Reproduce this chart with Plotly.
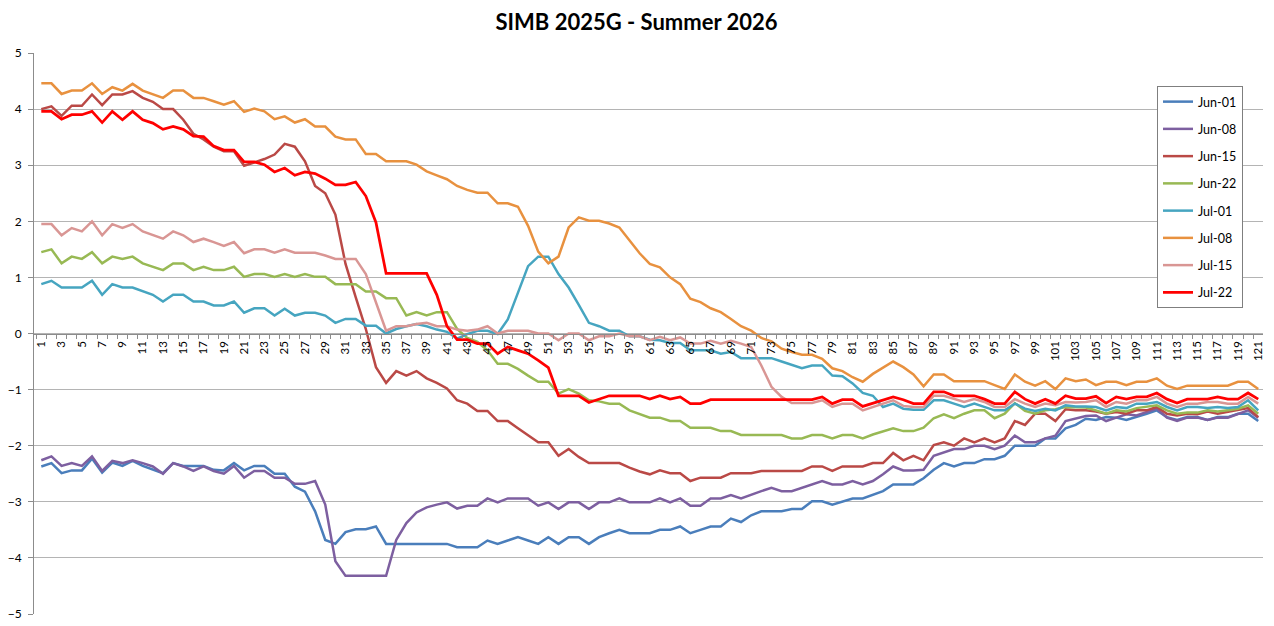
import plotly.graph_objects as go

# day index along the season (category axis 1..121)
days = list(range(1, 122))
tick_days = list(range(1, 122, 2))
tick_labels = [str(d) for d in tick_days]

jun_01 = [-2.37, -2.31, -2.49, -2.44, -2.44, -2.23, -2.48, -2.30, -2.36, -2.27, -2.36, -2.43, -2.49, -2.31, -2.36, -2.36, -2.36, -2.43, -2.44, -2.31, -2.44,
          -2.36, -2.36, -2.50, -2.50, -2.73, -2.82, -3.17, -3.68, -3.75, -3.54, -3.49, -3.49, -3.44, -3.75, -3.75, -3.75, -3.75, -3.75, -3.75, -3.75, -3.81,
          -3.81, -3.81, -3.69, -3.75, -3.69, -3.63, -3.69, -3.75, -3.63, -3.75, -3.63, -3.63, -3.75, -3.63, -3.56, -3.50, -3.56, -3.56, -3.56, -3.50,
          -3.50, -3.44, -3.56, -3.50, -3.44, -3.44, -3.30, -3.36, -3.24, -3.17, -3.17, -3.17, -3.13, -3.13, -2.99, -2.99, -3.05, -2.99, -2.94, -2.94, -2.88, -2.81, -2.69, -2.69,
          -2.69, -2.58, -2.43, -2.31, -2.37, -2.31, -2.31, -2.24, -2.24, -2.18, -2.00, -2.00, -2.00, -1.87, -1.87, -1.69, -1.63, -1.52,
          -1.54, -1.49, -1.50, -1.54, -1.49, -1.43, -1.37, -1.49, -1.54, -1.49, -1.49, -1.54, -1.49, -1.49, -1.43, -1.43, -1.56]

jun_08 = [-2.26, -2.19, -2.36, -2.31, -2.36, -2.19, -2.45, -2.27, -2.31, -2.26, -2.31, -2.37, -2.50, -2.31, -2.37, -2.45, -2.37, -2.45, -2.50, -2.36, -2.57,
          -2.45, -2.45, -2.57, -2.57, -2.68, -2.68, -2.63, -3.05, -4.06, -4.32, -4.32, -4.32, -4.32, -4.32, -3.68, -3.38, -3.19, -3.10, -3.05, -3.01, -3.12,
          -3.07, -3.07, -2.94, -3.01, -2.94, -2.94, -2.94, -3.07, -3.01, -3.13, -3.01, -3.01, -3.13, -3.01, -3.01, -2.94, -3.01, -3.01, -3.01, -2.94,
          -3.01, -2.94, -3.07, -3.07, -2.94, -2.94, -2.88, -2.94, -2.87, -2.81, -2.75, -2.81, -2.81, -2.75, -2.69, -2.63, -2.69, -2.69, -2.63, -2.69, -2.63, -2.51, -2.37, -2.44, -2.44,
          -2.43, -2.18, -2.12, -2.06, -2.06, -2.00, -2.00, -2.06, -2.00, -1.82, -1.94, -1.94, -1.87, -1.82, -1.56, -1.51, -1.47,
          -1.46, -1.56, -1.50, -1.44, -1.46, -1.40, -1.34, -1.50, -1.56, -1.50, -1.50, -1.54, -1.50, -1.50, -1.43, -1.37, -1.50]

jun_15 = [4.00, 4.05, 3.88, 4.06, 4.06, 4.26, 4.07, 4.26, 4.26, 4.32, 4.20, 4.13, 4.00, 4.00, 3.81, 3.56, 3.46, 3.33, 3.25, 3.25, 2.99,
          3.05, 3.11, 3.19, 3.38, 3.33, 3.07, 2.63, 2.50, 2.12, 1.24, 0.65, 0.08, -0.60, -0.88, -0.67, -0.75, -0.67, -0.80, -0.88, -0.98, -1.19,
          -1.25, -1.38, -1.38, -1.56, -1.56, -1.69, -1.82, -1.94, -1.94, -2.18, -2.06, -2.20, -2.31, -2.31, -2.31, -2.31, -2.39, -2.46, -2.51, -2.44,
          -2.49, -2.49, -2.63, -2.57, -2.57, -2.57, -2.49, -2.49, -2.49, -2.45, -2.45, -2.45, -2.45, -2.45, -2.37, -2.37, -2.45, -2.37, -2.37, -2.37, -2.31, -2.31, -2.13, -2.26,
          -2.18, -2.26, -1.99, -1.94, -2.00, -1.87, -1.94, -1.87, -1.94, -1.87, -1.56, -1.63, -1.43, -1.43, -1.56, -1.35, -1.37, -1.37,
          -1.39, -1.43, -1.40, -1.43, -1.37, -1.37, -1.31, -1.43, -1.46, -1.43, -1.44, -1.39, -1.43, -1.40, -1.37, -1.33, -1.49]

jun_22 = [1.45, 1.50, 1.25, 1.37, 1.33, 1.45, 1.25, 1.37, 1.33, 1.37, 1.25, 1.19, 1.13, 1.25, 1.25, 1.13, 1.19, 1.13, 1.13, 1.19, 1.01,
          1.06, 1.06, 1.01, 1.06, 1.01, 1.06, 1.01, 1.01, 0.88, 0.88, 0.88, 0.75, 0.75, 0.63, 0.63, 0.32, 0.38, 0.32, 0.38, 0.38, 0.08,
          -0.08, -0.15, -0.30, -0.54, -0.54, -0.63, -0.75, -0.86, -0.86, -1.07, -0.99, -1.07, -1.19, -1.21, -1.25, -1.25, -1.37, -1.44, -1.50, -1.50,
          -1.56, -1.56, -1.68, -1.68, -1.68, -1.74, -1.74, -1.81, -1.81, -1.81, -1.81, -1.81, -1.87, -1.87, -1.81, -1.81, -1.87, -1.81, -1.81, -1.87, -1.80, -1.74, -1.69, -1.74,
          -1.74, -1.68, -1.51, -1.44, -1.51, -1.43, -1.37, -1.37, -1.51, -1.43, -1.24, -1.38, -1.43, -1.37, -1.35, -1.31, -1.31, -1.32,
          -1.37, -1.43, -1.37, -1.39, -1.33, -1.31, -1.28, -1.37, -1.43, -1.41, -1.41, -1.37, -1.39, -1.37, -1.34, -1.28, -1.43]

jul_01 = [0.88, 0.94, 0.82, 0.82, 0.82, 0.94, 0.69, 0.88, 0.82, 0.82, 0.76, 0.69, 0.57, 0.69, 0.69, 0.57, 0.57, 0.50, 0.50, 0.57, 0.37,
          0.45, 0.45, 0.32, 0.44, 0.32, 0.37, 0.37, 0.32, 0.19, 0.26, 0.26, 0.14, 0.14, 0.00, 0.08, 0.13, 0.17, 0.13, 0.07, 0.03, -0.09,
          -0.01, 0.05, 0.05, -0.01, 0.25, 0.73, 1.20, 1.37, 1.37, 1.06, 0.82, 0.51, 0.19, 0.13, 0.05, 0.05, -0.05, -0.05, -0.11, -0.12, -0.17,
          -0.17, -0.30, -0.30, -0.30, -0.36, -0.33, -0.44, -0.44, -0.44, -0.44, -0.50, -0.56, -0.62, -0.57, -0.57, -0.75, -0.76, -0.89, -1.06, -1.11, -1.31, -1.25, -1.34,
          -1.36, -1.36, -1.19, -1.19, -1.25, -1.31, -1.25, -1.31, -1.37, -1.37, -1.25, -1.34, -1.38, -1.34, -1.37, -1.28, -1.30, -1.30,
          -1.31, -1.37, -1.31, -1.33, -1.25, -1.25, -1.22, -1.31, -1.37, -1.31, -1.31, -1.33, -1.31, -1.33, -1.31, -1.19, -1.37]

jul_08 = [4.46, 4.46, 4.27, 4.33, 4.33, 4.46, 4.27, 4.39, 4.33, 4.45, 4.33, 4.27, 4.20, 4.33, 4.33, 4.20, 4.20, 4.14, 4.08, 4.14, 3.95,
          4.01, 3.96, 3.82, 3.87, 3.76, 3.82, 3.69, 3.69, 3.51, 3.46, 3.46, 3.20, 3.20, 3.07, 3.07, 3.07, 3.01, 2.89, 2.82, 2.75, 2.63,
          2.56, 2.51, 2.51, 2.32, 2.32, 2.26, 1.92, 1.46, 1.25, 1.37, 1.89, 2.07, 2.01, 2.01, 1.96, 1.89, 1.65, 1.43, 1.24, 1.18, 1.00,
          0.88, 0.62, 0.56, 0.45, 0.38, 0.26, 0.13, 0.05, -0.08, -0.14, -0.27, -0.33, -0.38, -0.38, -0.45, -0.62, -0.67, -0.78, -0.86, -0.72, -0.61, -0.50, -0.60,
          -0.73, -0.94, -0.73, -0.73, -0.85, -0.85, -0.85, -0.85, -0.92, -0.99, -0.73, -0.86, -0.93, -0.85, -0.99, -0.80, -0.85, -0.82,
          -0.92, -0.86, -0.86, -0.92, -0.86, -0.86, -0.80, -0.93, -0.99, -0.93, -0.93, -0.93, -0.93, -0.93, -0.86, -0.86, -0.99]

jul_15 = [1.95, 1.95, 1.75, 1.88, 1.82, 2.00, 1.75, 1.95, 1.88, 1.95, 1.82, 1.75, 1.69, 1.82, 1.75, 1.63, 1.69, 1.63, 1.56, 1.63, 1.43,
          1.50, 1.50, 1.44, 1.50, 1.44, 1.44, 1.44, 1.39, 1.33, 1.33, 1.33, 1.06, 0.56, 0.05, 0.13, 0.13, 0.17, 0.19, 0.13, 0.13, 0.07,
          0.05, 0.07, 0.13, 0.00, 0.05, 0.05, 0.05, 0.00, 0.00, -0.12, 0.00, 0.00, -0.12, -0.05, -0.05, 0.00, -0.05, -0.05, -0.12, -0.06, -0.12,
          -0.07, -0.18, -0.18, -0.13, -0.18, -0.13, -0.18, -0.24, -0.57, -0.95, -1.13, -1.24, -1.24, -1.24, -1.19, -1.31, -1.25, -1.25, -1.37, -1.31, -1.25, -1.19, -1.29,
          -1.31, -1.31, -1.11, -1.11, -1.17, -1.22, -1.17, -1.22, -1.31, -1.31, -1.17, -1.25, -1.31, -1.25, -1.28, -1.22, -1.23, -1.22,
          -1.19, -1.31, -1.22, -1.25, -1.19, -1.19, -1.13, -1.25, -1.31, -1.25, -1.25, -1.22, -1.22, -1.25, -1.25, -1.13, -1.25]

jul_22 = [3.96, 3.96, 3.82, 3.90, 3.90, 3.96, 3.76, 3.96, 3.81, 3.96, 3.81, 3.75, 3.64, 3.69, 3.64, 3.52, 3.51, 3.34, 3.27, 3.27, 3.06,
          3.06, 3.01, 2.88, 2.95, 2.82, 2.88, 2.85, 2.76, 2.65, 2.65, 2.70, 2.45, 1.98, 1.07, 1.07, 1.07, 1.07, 1.07, 0.69, 0.13, -0.11,
          -0.11, -0.18, -0.18, -0.36, -0.24, -0.30, -0.36, -0.48, -0.61, -1.11, -1.11, -1.11, -1.23, -1.17, -1.11, -1.11, -1.11, -1.11, -1.17, -1.11, -1.17,
          -1.13, -1.25, -1.25, -1.18, -1.18, -1.18, -1.18, -1.18, -1.18, -1.18, -1.18, -1.18, -1.18, -1.18, -1.13, -1.25, -1.18, -1.18, -1.30, -1.24, -1.18, -1.13, -1.18,
          -1.25, -1.25, -1.04, -1.04, -1.11, -1.11, -1.11, -1.17, -1.25, -1.25, -1.04, -1.17, -1.25, -1.17, -1.25, -1.11, -1.16, -1.16,
          -1.12, -1.24, -1.13, -1.17, -1.13, -1.13, -1.06, -1.17, -1.24, -1.17, -1.17, -1.17, -1.13, -1.17, -1.17, -1.06, -1.17]

series = [
    ('Jun-01', jun_01, '#4A7EBB', 2.5),
    ('Jun-08', jun_08, '#7D5FA0', 2.5),
    ('Jun-15', jun_15, '#BA4946', 2.5),
    ('Jun-22', jun_22, '#98B954', 2.5),
    ('Jul-01', jul_01, '#46A5C0', 2.5),
    ('Jul-08', jul_08, '#E8913F', 2.5),
    ('Jul-15', jul_15, '#D99694', 2.5),
    ('Jul-22', jul_22, '#FF0000', 2.75),
]

fig = go.Figure()

for name, vals, color, w in series:
    fig.add_trace(go.Scatter(x=days, y=vals, mode='lines', name=name,
                             legendgroup=name,
                             line=dict(color=color, width=w)))

grid = '#B4B4B4'
axis = '#8C8C8C'

# page body has an 8px margin, so the figure is drawn 8px smaller
W, H = 1266, 618
fig.update_layout(
    width=W, height=H,
    paper_bgcolor='white', plot_bgcolor='white',
    margin=dict(l=26, r=11, t=45, b=12, autoexpand=False),
    font=dict(family='Lato, Open Sans, sans-serif', color='black', size=12),
    title=dict(text='<b>SIMB 2025G - Summer 2026</b>', x=(636.5 - 8) / W, xref='container',
               xanchor='center', y=1 - 14 / H, yanchor='middle',
               font=dict(size=22, color='black')),
    showlegend=True,
    legend=dict(x=(1157 - 34) / 1229, xanchor='left',
                y=(614 - 86) / 561, yanchor='top',
                bgcolor='white', bordercolor='#7F7F7F', borderwidth=1,
                font=dict(size=12.5), tracegroupgap=8,
                itemwidth=30),
)

fig.update_xaxes(
    range=[0.28, 121.47], automargin=False,
    anchor='free', position=0.5,
    tickmode='array', tickvals=tick_days, ticktext=tick_labels,
    tickangle=-90, ticks='', tickfont=dict(size=11.5),
    ticklabelstandoff=2,
    showgrid=False, zeroline=False,
    showline=True, linecolor=axis, linewidth=1,
    minor=dict(tickmode='array', tickvals=[d + 0.5 for d in [0] + days],
               ticks='outside', ticklen=4, tickcolor=axis, showgrid=False),
)

fig.update_yaxes(
    range=[-5, 5], dtick=1, tick0=0, automargin=False,
    showgrid=True, gridcolor=grid, gridwidth=1,
    zeroline=False,
    showline=True, linecolor=axis, linewidth=1,
    ticks='outside', ticklen=5, tickcolor=axis,
    tickfont=dict(size=12), ticklabelstandoff=4,
)

fig.write_html('out.html')
